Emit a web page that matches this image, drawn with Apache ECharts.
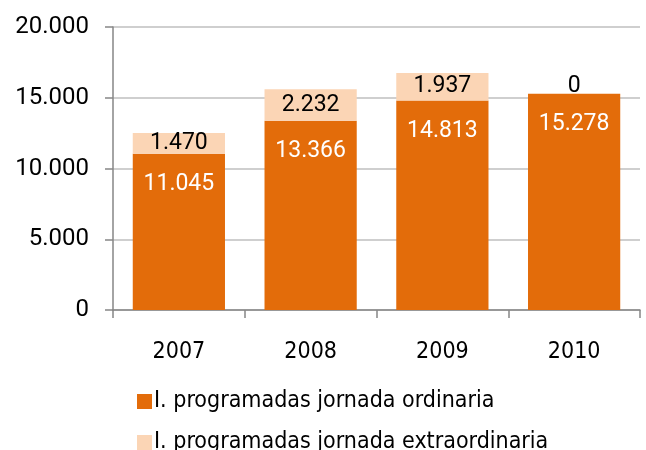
<!DOCTYPE html>
<html>
<head>
<meta charset="utf-8">
<script src="https://cdn.jsdelivr.net/npm/echarts@6/dist/echarts.min.js"></script>
<style>
  html, body { margin: 0; padding: 0; background: #fff; }
  #chart { width: 646px; height: 450px; }
</style>
</head>
<body>
<div id="chart"></div>
<script>
var years = ['2007', '2008', '2009', '2010']
var ordinaria = [11045, 13366, 14813, 15278]
var extraordinaria = [1470, 2232, 1937, 0]
var seriesNames = ['I. programadas jornada ordinaria', 'I. programadas jornada extraordinaria']

// formato con punto de miles
function fmt(v) {
  return String(v).replace(/\B(?=(\d{3})+(?!\d))/g, '.')
}

var legendText = {
  fontFamily: 'DejaVu Sans Condensed, Liberation Sans, sans-serif',
  fontSize: 23,
  color: '#000',
  padding: [0, 0, 0, -3],
}

var myChart = echarts.init(document.getElementById('chart'))
var option = {
  animation: false,
  grid: {
    left: 113,
    right: 6,
    top: 27,
    bottom: 140,
  },
  legend: [
    {
      left: 132,
      top: 385,
      itemWidth: 15,
      itemHeight: 15,
      icon: 'rect',
      textStyle: legendText,
      data: [seriesNames[0]],
    },
    {
      left: 132,
      top: 426,
      itemWidth: 15,
      itemHeight: 15,
      icon: 'rect',
      textStyle: legendText,
      data: [seriesNames[1]],
    },
  ],
  xAxis: {
    type: 'category',
    data: years,
    axisLine: { lineStyle: { color: '#868686', width: 1.5 } },
    axisTick: { show: true, length: 8, lineStyle: { color: '#868686', width: 1.5 } },
    axisLabel: {
      margin: 31,
      fontFamily: 'DejaVu Sans Condensed, Liberation Sans, sans-serif',
      fontSize: 23,
      color: '#000',
    },
  },
  yAxis: {
    type: 'value',
    min: 0,
    max: 20000,
    interval: 5000,
    axisLine: { show: true, lineStyle: { color: '#868686', width: 1.5 } },
    axisTick: { show: true, length: 8, lineStyle: { color: '#868686', width: 1.5 } },
    splitLine: { lineStyle: { color: '#BFBFBF', width: 1.5 } },
    axisLabel: {
      margin: 24,
      fontFamily: 'Roboto, sans-serif',
      fontSize: 24,
      color: '#000',
      formatter: function (v) { return fmt(v) },
    },
  },
  series: [
    {
      name: seriesNames[0],
      type: 'bar',
      stack: 'total',
      barCategoryGap: '30%',
      itemStyle: { color: '#E36C0A' },
      label: {
        show: true,
        position: 'insideTop',
        distance: 19,
        fontFamily: 'Roboto, sans-serif',
        fontSize: 23,
        color: '#fff',
        formatter: function (p) { return fmt(p.value) },
      },
      data: ordinaria,
    },
    {
      name: seriesNames[1],
      type: 'bar',
      stack: 'total',
      itemStyle: { color: '#FBD5B5' },
      label: {
        show: true,
        position: 'inside',
        fontFamily: 'Roboto, sans-serif',
        fontSize: 23,
        color: '#000',
        formatter: function (p) { return fmt(p.value) },
      },
      data: extraordinaria.map(function (v) {
        if (v === 0) {
          return { value: v, label: { position: 'top', distance: -4 } }
        }
        return v
      }),
    },
  ],
}

option && myChart.setOption(option)
</script>
</body>
</html>
